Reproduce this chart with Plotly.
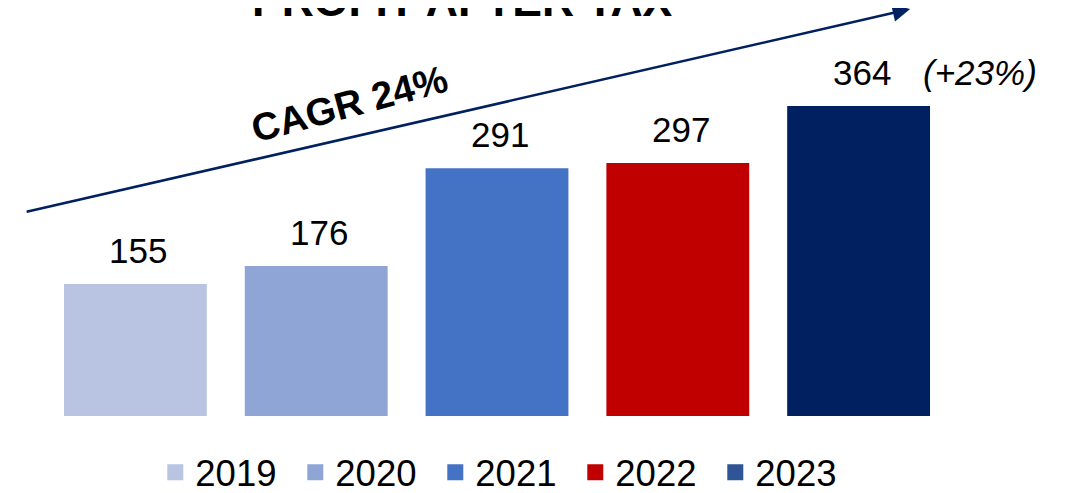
import plotly.graph_objects as go

years = ["2019", "2020", "2021", "2022", "2023"]
profit = [155, 176, 291, 297, 364]
bar_colors = ["#B9C3E2", "#8FA5D5", "#4472C4", "#C00000", "#002060"]
legend_colors = ["#B9C3E2", "#8FA5D5", "#4472C4", "#C00000", "#2F5597"]
growth_label = "(+23%)"
cagr_label = "CAGR 24%"
title_text = "PROFIT AFTER TAX"

FONT = "Liberation Sans, Arial, sans-serif"

fig = go.Figure()
fig.add_trace(go.Bar(x=years, y=profit, marker=dict(color=bar_colors, line=dict(width=0)),
                     width=0.79, showlegend=False, hoverinfo="x+y"))
for yr, col in zip(years, legend_colors):
    fig.add_trace(go.Scatter(x=[None], y=[None], mode="markers", name=yr,
                             marker=dict(symbol="square", size=20, color=col), showlegend=True))

annotations = []
for i, v in enumerate(profit):
    annotations.append(dict(x=i, y=v, xref="x", yref="y", text=str(v), showarrow=False,
                            xanchor="center", yanchor="bottom", yshift=12, xshift=3,
                            font=dict(size=35, color="black", family=FONT)))
annotations.append(dict(x=len(profit) - 1, y=profit[-1], xref="x", yref="y", text=f"<i>{growth_label}</i>",
                        showarrow=False, xanchor="center", yanchor="bottom", yshift=12, xshift=121,
                        font=dict(size=35, color="black", family=FONT)))
annotations.append(dict(x=0.957, y=1.007, xref="paper", yref="paper", ax=-885, ay=207,
                        axref="pixel", ayref="pixel", text="", showarrow=True, arrowhead=2,
                        arrowsize=1.4, arrowwidth=2.5, arrowcolor="#002060"))
annotations.append(dict(x=0.337, y=0.765, xref="paper", yref="paper", text=f"<b>{cagr_label}</b>",
                        showarrow=False, textangle=-15, xanchor="center", yanchor="middle",
                        font=dict(size=38.5, color="black", family=FONT)))
annotations.append(dict(x=0.462, y=0.953, xref="paper", yref="paper", text=f"<b>{title_text}</b>",
                        showarrow=False, xanchor="center", yanchor="bottom",
                        font=dict(size=44.5, color="black", family=FONT)))

fig.update_layout(
    width=1069, height=493,
    margin=dict(l=37, r=128, t=0, b=85),
    paper_bgcolor="white", plot_bgcolor="white",
    xaxis=dict(type="category", showticklabels=False, showgrid=False, zeroline=False, showline=False,
               range=[-0.5, 4.5]),
    yaxis=dict(range=[0, 479.1], showticklabels=False, showgrid=False, zeroline=False, showline=False),
    legend=dict(orientation="h", x=0.122, xanchor="left", y=0.058, yanchor="middle", yref="container",
                font=dict(size=36.5, color="black", family=FONT), itemsizing="trace",
                traceorder="normal", entrywidth=95),
    annotations=annotations,
)

fig.write_html("out.html")
